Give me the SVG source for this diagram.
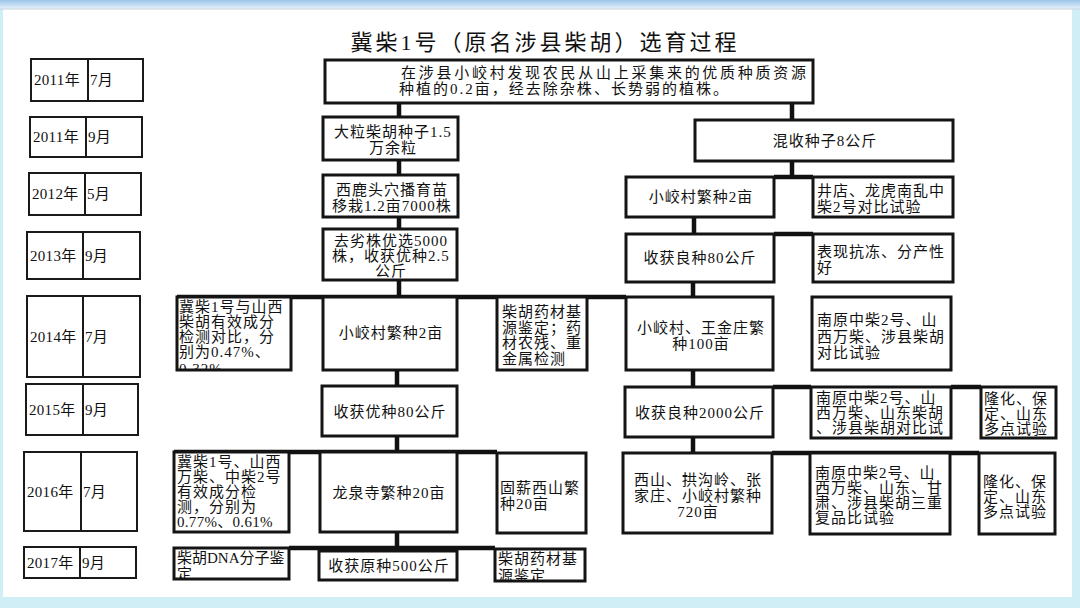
<svg xmlns="http://www.w3.org/2000/svg" width="1080" height="608" viewBox="0 0 1080 608">
<defs>
<linearGradient id="topg" x1="0" y1="0" x2="0" y2="1"><stop offset="0" stop-color="#9cc6ea"/><stop offset="1" stop-color="#e6f1fa"/></linearGradient>
<clipPath id="c1"><rect x="178" y="298" width="112" height="71"/></clipPath>
<clipPath id="c2"><rect x="175" y="549" width="113" height="29"/></clipPath>
<clipPath id="c3"><rect x="496" y="550" width="88" height="30"/></clipPath>
</defs>
<style>
.box{fill:#fff;stroke:#141414;stroke-width:3}
.dbox{fill:#fff;stroke:#1a1a1a;stroke-width:2}
.conn{stroke:#111;stroke-width:4.5;fill:none}
.t{font-family:"Liberation Serif","Noto Sans CJK SC",serif;font-size:15px;fill:#111;letter-spacing:1px}
.d{font-family:"Liberation Serif","Noto Sans CJK SC",serif;font-size:15px;fill:#111;letter-spacing:0.3px}
.c{text-anchor:middle}
.title{font-family:"Liberation Serif","Noto Sans CJK SC",serif;font-size:22px;fill:#111;letter-spacing:3px;text-anchor:middle}
</style>
<rect x="0" y="0" width="1080" height="608" fill="#cfeef6"/>
<rect x="0" y="0" width="1080" height="9" fill="url(#topg)"/>
<rect x="3" y="9" width="1069" height="588" fill="#fff"/>
<line x1="0" y1="9" x2="1080" y2="9" stroke="#c8d4dc" stroke-width="1"/>
<text class="title" x="545" y="50">冀柴1号（原名涉县柴胡）选育过程</text>

<g id="dates">
<g id="d2011-7"><rect class="dbox" x="31" y="59" width="112" height="42"/><line x1="88" y1="59" x2="88" y2="101" stroke="#1a1a1a" stroke-width="2"/><text class="d" x="34" y="85">2011年</text><text class="d" x="90" y="85">7月</text></g>
<g id="d2011-9"><rect class="dbox" x="30" y="117" width="112" height="40"/><line x1="86" y1="117" x2="86" y2="157" stroke="#1a1a1a" stroke-width="2"/><text class="d" x="33" y="142">2011年</text><text class="d" x="88" y="142">9月</text></g>
<g id="d2012-5"><rect class="dbox" x="29" y="173" width="112" height="42"/><line x1="85" y1="173" x2="85" y2="215" stroke="#1a1a1a" stroke-width="2"/><text class="d" x="32" y="199">2012年</text><text class="d" x="87" y="199">5月</text></g>
<g id="d2013-9"><rect class="dbox" x="27" y="232" width="113" height="47"/><line x1="83" y1="232" x2="83" y2="279" stroke="#1a1a1a" stroke-width="2"/><text class="d" x="30" y="261">2013年</text><text class="d" x="85" y="261">9月</text></g>
<g id="d2014-7"><rect class="dbox" x="27" y="296" width="113" height="81"/><line x1="83" y1="296" x2="83" y2="377" stroke="#1a1a1a" stroke-width="2"/><text class="d" x="30" y="342">2014年</text><text class="d" x="85" y="342">7月</text></g>
<g id="d2015-9"><rect class="dbox" x="26" y="384" width="112" height="51"/><line x1="83" y1="384" x2="83" y2="435" stroke="#1a1a1a" stroke-width="2"/><text class="d" x="29" y="415">2015年</text><text class="d" x="85" y="415">9月</text></g>
<g id="d2016-7"><rect class="dbox" x="24" y="452" width="113" height="79"/><line x1="81" y1="452" x2="81" y2="531" stroke="#1a1a1a" stroke-width="2"/><text class="d" x="27" y="497">2016年</text><text class="d" x="83" y="497">7月</text></g>
<g id="d2017-9"><rect class="dbox" x="24" y="547" width="112" height="31"/><line x1="80" y1="547" x2="80" y2="578" stroke="#1a1a1a" stroke-width="2"/><text class="d" x="27" y="568">2017年</text><text class="d" x="82" y="568">9月</text></g>
</g>

<g id="connectors">
<path class="conn" d="M399,103V118 M399,160V176 M399,217V230 M399,280V297 M177,297H626"/>
<path class="conn" d="M397,370V387 M397,436V452 M174,452H497 M397,532V548 M289,548H495"/>
<path class="conn" d="M792,103V121 M792,161V177 M774,177H813 M694,217V235 M774,234H813 M693,282V297 M693,370V388 M773,387H811 M951,387H981 M693,437V453 M772,453H979"/>
</g>

<g id="n-top"><rect class="box" x="325" y="60" width="488" height="43"/>
<text class="t" x="401" y="78" textLength="406" lengthAdjust="spacing">在涉县小峧村发现农民从山上采集来的优质种质资源</text>
<text class="t" x="399" y="94" textLength="330" lengthAdjust="spacing">种植的0.2亩，经去除杂株、长势弱的植株。</text></g>
<g id="n-dali"><rect class="box" x="323" y="117" width="135" height="43"/>
<text class="t c" x="393" y="137">大粒柴胡种子1.5</text><text class="t c" x="393" y="153">万余粒</text></g>
<g id="n-hunshou"><rect class="box" x="695" y="120" width="258" height="41"/>
<text class="t c" x="825" y="146">混收种子8公斤</text></g>
<g id="n-xiluotou"><rect class="box" x="323" y="175" width="135" height="42"/>
<text class="t c" x="392" y="195">西鹿头穴播育苗</text><text class="t c" x="392" y="211">移栽1.2亩7000株</text></g>
<g id="n-xjc-r"><rect class="box" x="626" y="177" width="148" height="40"/>
<text class="t c" x="701" y="202">小峧村繁种2亩</text></g>
<g id="n-jingdian"><rect class="box" x="813" y="177" width="140" height="40"/>
<text class="t" x="817" y="196">井店、龙虎南乱中</text><text class="t" x="817" y="212">柴2号对比试验</text></g>
<g id="n-qulie"><rect class="box" x="323" y="229" width="134" height="51"/>
<text class="t c" x="391" y="246">去劣株优选5000</text><text class="t c" x="391" y="261">株，收获优种2.5</text><text class="t c" x="391" y="276">公斤</text></g>
<g id="n-lz80"><rect class="box" x="626" y="234" width="148" height="48"/>
<text class="t c" x="700" y="263">收获良种80公斤</text></g>
<g id="n-biaoxian"><rect class="box" x="813" y="234" width="140" height="48"/>
<text class="t" x="817" y="257">表现抗冻、分产性</text><text class="t" x="817" y="273">好</text></g>

<g id="n-jichai14"><rect class="box" x="177" y="297" width="114" height="73"/>
<g clip-path="url(#c1)"><text class="t" x="179" y="312">冀柴1号与山西</text><text class="t" x="179" y="327">柴胡有效成分</text><text class="t" x="179" y="342">检测对比，分</text><text class="t" x="179" y="357">别为0.47%、</text><text class="t" x="179" y="374">0.32%</text></g></g>
<g id="n-xjc-m"><rect class="box" x="323" y="297" width="134" height="73"/>
<text class="t c" x="391" y="338">小峧村繁种2亩</text></g>
<g id="n-yaocai14"><rect class="box" x="497" y="297" width="90" height="73"/>
<text class="t" x="502" y="317">柴胡药材基</text><text class="t" x="502" y="333">源鉴定；药</text><text class="t" x="502" y="348">材农残、重</text><text class="t" x="502" y="364">金属检测</text></g>
<g id="n-xjwjz"><rect class="box" x="626" y="297" width="147" height="73"/>
<text class="t c" x="701" y="333">小峧村、王金庄繁</text><text class="t c" x="701" y="349">种100亩</text></g>
<g id="n-nanyuan14"><rect class="box" x="812" y="297" width="139" height="73"/>
<text class="t" x="817" y="325">南原中柴2号、山</text><text class="t" x="817" y="342">西万柴、涉县柴胡</text><text class="t" x="817" y="358">对比试验</text></g>

<g id="n-yz80"><rect class="box" x="322" y="386" width="135" height="50"/>
<text class="t c" x="390" y="417">收获优种80公斤</text></g>
<g id="n-lz2000"><rect class="box" x="625" y="387" width="148" height="50"/>
<text class="t c" x="700" y="418">收获良种2000公斤</text></g>
<g id="n-nanyuan15"><rect class="box" x="811" y="387" width="140" height="51"/>
<text class="t" x="816" y="403">南原中柴2号、山</text><text class="t" x="816" y="418">西万柴、山东柴胡</text><text class="t" x="816" y="433">、涉县柴胡对比试</text></g>
<g id="n-longhua15"><rect class="box" x="981" y="387" width="75" height="51"/>
<text class="t" x="984" y="404">隆化、保</text><text class="t" x="984" y="419">定、山东</text><text class="t" x="984" y="434">多点试验</text></g>

<g id="n-jichai16"><rect class="box" x="174" y="452" width="115" height="80"/>
<text class="t" x="177" y="467">冀柴1号、山西</text><text class="t" x="177" y="482">万柴、中柴2号</text><text class="t" x="177" y="497">有效成分检</text><text class="t" x="177" y="512">测，分别为</text><text class="t" x="177" y="527" style="letter-spacing:0.3px">0.77%、0.61%</text></g>
<g id="n-longquan"><rect class="box" x="320" y="452" width="137" height="80"/>
<text class="t c" x="389" y="498">龙泉寺繁种20亩</text></g>
<g id="n-guxin"><rect class="box" x="497" y="453" width="89" height="80"/>
<text class="t" x="500" y="493">固薪西山繁</text><text class="t" x="500" y="509">种20亩</text></g>
<g id="n-xishan"><rect class="box" x="623" y="453" width="149" height="80"/>
<text class="t c" x="698" y="485">西山、拱沟岭、张</text><text class="t c" x="698" y="501">家庄、小峧村繁种</text><text class="t c" x="698" y="517">720亩</text></g>
<g id="n-nanyuan16"><rect class="box" x="810" y="453" width="140" height="81"/>
<text class="t" x="815" y="478">南原中柴2号、山</text><text class="t" x="815" y="493">西万柴、山东、甘</text><text class="t" x="815" y="508">肃、涉县柴胡三重</text><text class="t" x="815" y="523">复品比试验</text></g>
<g id="n-longhua16"><rect class="box" x="979" y="453" width="76" height="81"/>
<text class="t" x="983" y="487">隆化、保</text><text class="t" x="983" y="502">定、山东</text><text class="t" x="983" y="517">多点试验</text></g>

<g id="n-dna"><rect class="box" x="174" y="548" width="115" height="31"/>
<g clip-path="url(#c2)"><text class="t" x="177" y="563" style="letter-spacing:0px">柴胡DNA分子鉴</text><text class="t" x="177" y="579">定</text></g></g>
<g id="n-yz500"><rect class="box" x="319" y="551" width="138" height="29"/>
<text class="t c" x="389" y="571">收获原种500公斤</text></g>
<g id="n-yaocai17"><rect class="box" x="495" y="549" width="90" height="32"/>
<g clip-path="url(#c3)"><text class="t" x="498" y="564">柴胡药材基</text><text class="t" x="498" y="581">源鉴定</text></g></g>
</svg>
